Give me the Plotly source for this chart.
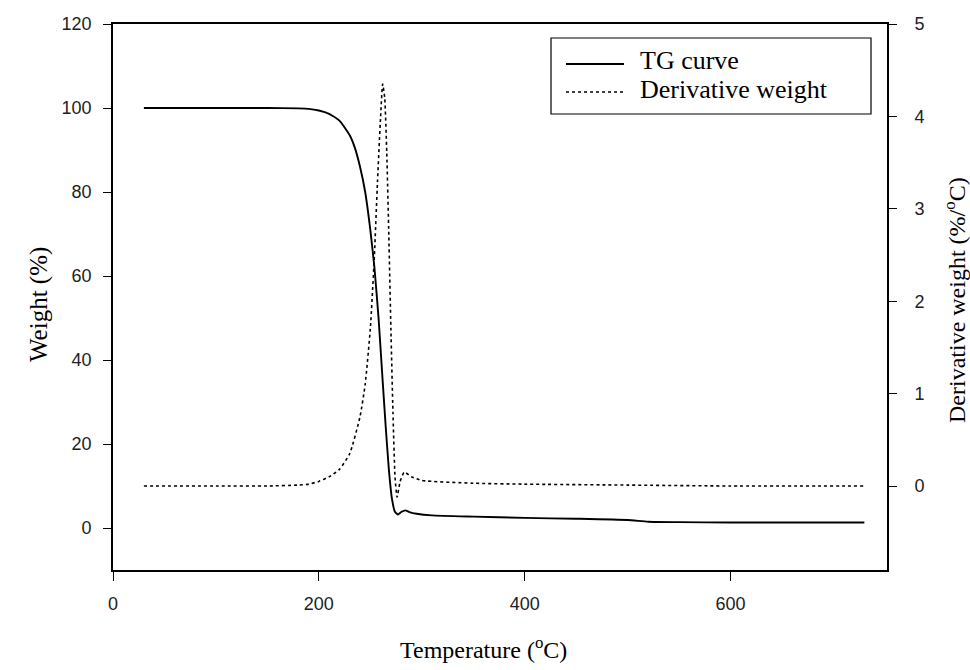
import plotly.graph_objects as go

# TG curve (weight %) vs temperature
temp_tg = [30, 100, 150, 180, 190, 200, 210, 220, 230, 235, 240, 245, 250, 254, 258,
           262, 265, 268, 271, 274, 277, 280, 284, 288, 295, 310, 350, 400, 450, 500,
           520, 550, 600, 650, 730]
weight = [100, 100, 100, 99.9, 99.8, 99.4, 98.6, 97, 93.5, 90.5, 86, 80, 71, 62, 50,
          35, 24, 14, 7, 3.8, 3.2, 3.8, 4.2, 3.8, 3.4, 3.0, 2.7, 2.4, 2.2, 1.9,
          1.5, 1.4, 1.3, 1.3, 1.3]

# Derivative weight (%/°C) vs temperature
temp_dw = [30, 100, 150, 180, 190, 200, 210, 220, 230, 240, 245, 250, 254, 257, 260,
           262, 264, 266, 268, 270, 272, 274, 276, 279, 283, 290, 300, 350, 400, 500,
           600, 730]
deriv = [0, 0, 0, 0.01, 0.02, 0.05, 0.1, 0.18, 0.35, 0.75, 1.1, 1.7, 2.5, 3.3, 4.0,
         4.35, 4.2, 3.6, 2.7, 1.7, 0.8, 0.1, -0.12, 0.05, 0.15, 0.1, 0.06, 0.03, 0.02, 0.01,
         0, 0]

x_ticks = [0, 200, 400, 600]
y_ticks = [0, 20, 40, 60, 80, 100, 120]
y2_ticks = [0, 1, 2, 3, 4, 5]
legend_labels = ["TG curve", "Derivative weight"]

serif = "Liberation Serif, Times New Roman, serif"
sans = "Liberation Sans, Arial, sans-serif"

fig = go.Figure()
fig.add_trace(go.Scatter(x=temp_tg, y=weight, mode="lines", name=legend_labels[0],
                         showlegend=False,
                         line=dict(color="black", width=1.9, shape="spline", smoothing=0.5)))
fig.add_trace(go.Scatter(x=temp_dw, y=deriv, mode="lines", name=legend_labels[1],
                         yaxis="y2", showlegend=False,
                         line=dict(color="black", width=1.6, dash="dot", shape="spline", smoothing=0.5)))

# Plot-area edges in pixels, and helpers for paper coordinates
L, R, T, B = 113, 887, 24, 570
def px(x):
    return (x - L) / (R - L)
def py(y):
    return (B - y) / (B - T)

shapes = [
    dict(type="rect", xref="paper", yref="paper", x0=px(551), x1=px(871), y0=py(114), y1=py(38),
         line=dict(color="black", width=1.2), fillcolor="white", layer="above"),
    dict(type="line", xref="paper", yref="paper", x0=px(566), x1=px(624), y0=py(64), y1=py(64),
         line=dict(color="black", width=1.9), layer="above"),
    dict(type="line", xref="paper", yref="paper", x0=px(566), x1=px(624), y0=py(92), y1=py(92),
         line=dict(color="black", width=1.6, dash="dot"), layer="above"),
]
annotations = [
    dict(xref="paper", yref="paper", x=px(638), y=py(y), text=t, showarrow=False,
         xanchor="left", yanchor="middle", font=dict(family=serif, size=26, color="black"))
    for t, y in zip(legend_labels, [61, 89])
]
annotations += [
    dict(xref="paper", yref="paper", x=px(483), y=py(648), text="Temperature (<sup>o</sup>C)",
         showarrow=False, xanchor="center", yanchor="middle",
         font=dict(family=serif, size=24, color="black")),
    dict(xref="paper", yref="paper", x=px(39), y=py(305), text="Weight (%)", textangle=-90,
         showarrow=False, xanchor="center", yanchor="middle",
         font=dict(family=serif, size=25, color="black")),
    dict(xref="paper", yref="paper", x=px(955), y=py(300),
         text="Derivative weight (%/<sup>o</sup>C)", textangle=-90,
         showarrow=False, xanchor="center", yanchor="middle",
         font=dict(family=serif, size=24, color="black")),
]

axis_common = dict(ticks="outside", tickwidth=1.3, tickcolor="black", showline=True,
                   linecolor="black", linewidth=1.6, showgrid=False, zeroline=False,
                   automargin=False, tickfont=dict(family=sans, size=18, color="#222"))

fig.update_layout(
    width=970, height=670,
    margin=dict(l=L, r=970 - R, t=T, b=670 - B, autoexpand=False),
    paper_bgcolor="white", plot_bgcolor="white",
    showlegend=False,
    shapes=shapes, annotations=annotations,
    xaxis=dict(range=[0, 752], tickvals=x_ticks, ticklen=9, mirror=True,
               ticklabelstandoff=8, **axis_common),
    yaxis=dict(range=[-10, 120], tickvals=y_ticks, ticklen=8, ticklabelstandoff=8,
               **axis_common),
    yaxis2=dict(range=[-20/22, 5], tickvals=y2_ticks, overlaying="y", side="right",
                ticklen=8, ticklabelstandoff=14, **axis_common),
)

fig.write_html("out.html")
